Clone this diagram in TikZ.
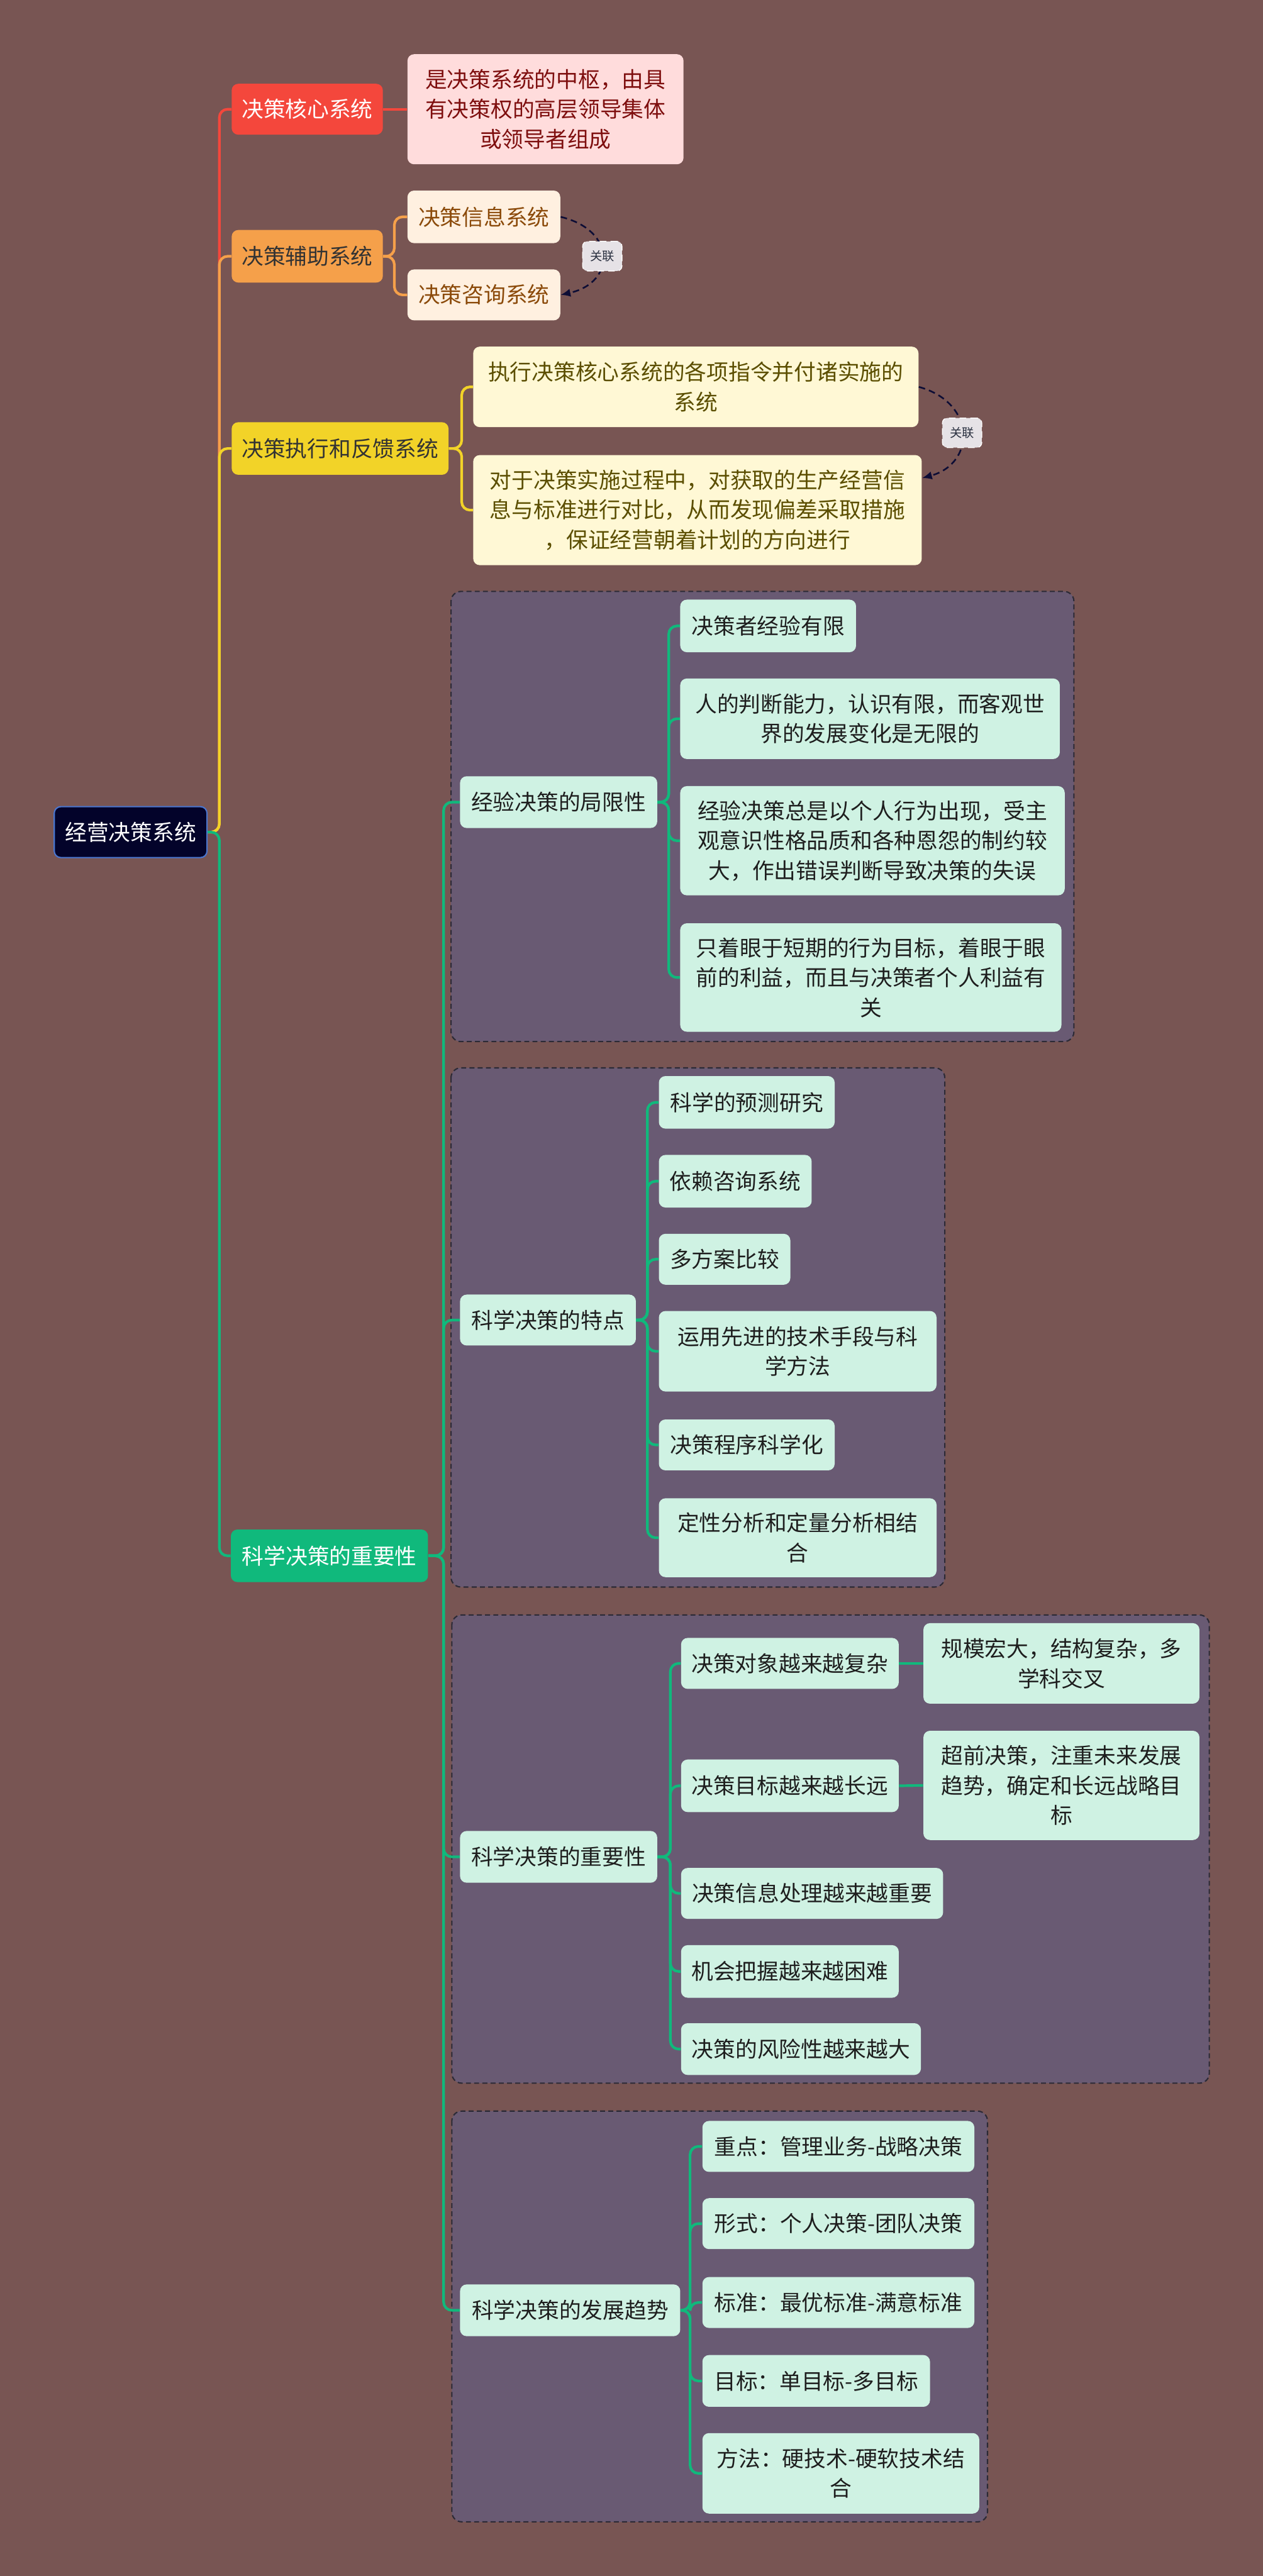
\documentclass[tikz,border=0pt]{standalone}
\usepackage{fontspec}
\newfontfamily\cjk{Noto Sans CJK SC}
\usetikzlibrary{arrows.meta}
\definecolor{bgc}{HTML}{785553}
\definecolor{grpfill}{HTML}{695A73}
\definecolor{grpline}{HTML}{2C2A36}
\definecolor{rootfill}{HTML}{03032A}
\definecolor{rootline}{HTML}{4A76D0}
\definecolor{redc}{HTML}{F4473C}
\definecolor{orangec}{HTML}{F5A04A}
\definecolor{yellowc}{HTML}{F2D328}
\definecolor{greenc}{HTML}{10B97C}
\definecolor{pinkfill}{HTML}{FFDCDC}
\definecolor{pinktext}{HTML}{7E0E0E}
\definecolor{creamfill}{HTML}{FFF0E0}
\definecolor{creamtext}{HTML}{8B4A0A}
\definecolor{lyfill}{HTML}{FFF8D5}
\definecolor{lytext}{HTML}{5B4E00}
\definecolor{mintfill}{HTML}{CFF2E3}
\definecolor{minttext}{HTML}{1E1E1E}
\definecolor{relc}{HTML}{0D0D35}
\definecolor{relfill}{HTML}{E6E2E6}
\definecolor{reltext}{HTML}{2A3040}
\pgfdeclarelayer{back}
\pgfdeclarelayer{edges}
\pgfsetlayers{back,edges,main}
\begin{document}
\begin{tikzpicture}[x=1pt,y=-1pt,
  nd/.style={rounded corners=4pt, inner sep=0pt, align=center,
    font=\cjk\fontsize{13.3}{18.2}\selectfont},
  sz/.style 2 args={minimum width=#1pt, minimum height=#2pt},
  rootbox/.style={nd, fill=rootfill, draw=rootline, line width=0.8pt, text=white},
  redbox/.style={nd, fill=redc, text=white},
  pinkbox/.style={nd, fill=pinkfill, text=pinktext},
  orangebox/.style={nd, fill=orangec, text=black!80},
  creambox/.style={nd, fill=creamfill, text=creamtext},
  yellowbox/.style={nd, fill=yellowc, text=black!80},
  lybox/.style={nd, fill=lyfill, text=lytext},
  greenbox/.style={nd, fill=greenc, text=white},
  mint/.style={nd, fill=mintfill, text=minttext},
  el/.style={line width=1.6pt, rounded corners=5pt},
  grp/.style={fill=grpfill, draw=grpline, line width=0.8pt, dash pattern=on 3pt off 2pt, rounded corners=6pt},
  rel/.style={draw=relc, line width=1pt, dash pattern=on 4pt off 2.5pt, -{Latex[length=6pt,width=5pt]}},
  rellabel/.style={fill=relfill, draw=white, line width=0.5pt, rounded corners=3pt, inner sep=0pt,
    minimum width=24pt, minimum height=18pt, text=reltext, font=\cjk\fontsize{7.4}{9}\selectfont}
]
\useasboundingbox (0,0) rectangle (768.6,1568);

% background and groups
\begin{pgfonlayer}{back}
\fill[bgc] (0,0) rectangle (768.6,1568);
\draw[grp] (274.5,360) rectangle (653.6,634);
\draw[grp] (274.5,650) rectangle (575,966);
\draw[grp] (275,983) rectangle (736,1268);
\draw[grp] (275,1285) rectangle (601,1535);
\end{pgfonlayer}

% nodes
\node[rootbox, sz={93}{31}] (root) at (79.5,506.5) {经营决策系统};

\node[redbox, sz={92}{31}] (red) at (187,66.5) {决策核心系统};
\node[pinkbox, sz={168}{67}] (pink) at (332,66.5) {是决策系统的中枢，由具\\有决策权的高层领导集体\\或领导者组成};

\node[orangebox, sz={92}{32}] (orange) at (187,156) {决策辅助系统};
\node[creambox, sz={93}{32}] (info) at (294.5,132) {决策信息系统};
\node[creambox, sz={93}{31}] (consult) at (294.5,179.5) {决策咨询系统};

\node[yellowbox, sz={132}{32}] (yellow) at (207,273) {决策执行和反馈系统};
\node[lybox, sz={271}{49}] (y1) at (423.5,235.5) {执行决策核心系统的各项指令并付诸实施的\\系统};
\node[lybox, sz={273}{67}] (y2) at (424.5,310.5) {对于决策实施过程中，对获取的生产经营信\\息与标准进行对比，从而发现偏差采取措施\\，保证经营朝着计划的方向进行};

\node[greenbox, sz={120}{32}] (green) at (200.5,947) {科学决策的重要性};

\node[mint, sz={120}{31.5}] (g1) at (340,488.25) {经验决策的局限性};
\node[mint, sz={107}{32}] (g1a) at (467.5,381) {决策者经验有限};
\node[mint, sz={231}{49}] (g1b) at (529.5,437.5) {人的判断能力，认识有限，而客观世\\界的发展变化是无限的};
\node[mint, sz={234}{66.5}] (g1c) at (531,511.75) {经验决策总是以个人行为出现，受主\\观意识性格品质和各种恩怨的制约较\\大，作出错误判断导致决策的失误};
\node[mint, sz={232}{66}] (g1d) at (530,595) {只着眼于短期的行为目标，着眼于眼\\前的利益，而且与决策者个人利益有\\关};

\node[mint, sz={107}{31}] (g2) at (333.5,803.5) {科学决策的特点};
\node[mint, sz={107}{32}] (g2a) at (454.5,671) {科学的预测研究};
\node[mint, sz={93}{32}] (g2b) at (447.5,719) {依赖咨询系统};
\node[mint, sz={80}{31}] (g2c) at (441,766.5) {多方案比较};
\node[mint, sz={169}{49}] (g2d) at (485.5,822.5) {运用先进的技术手段与科\\学方法};
\node[mint, sz={107}{31}] (g2e) at (454.5,879.5) {决策程序科学化};
\node[mint, sz={169}{48}] (g2f) at (485.5,936) {定性分析和定量分析相结\\合};

\node[mint, sz={120}{31.5}] (g3) at (340,1130.25) {科学决策的重要性};
\node[mint, sz={132.5}{31}] (g3a) at (480.75,1012.5) {决策对象越来越复杂};
\node[mint, sz={168}{49}] (g3a1) at (646,1012.5) {规模宏大，结构复杂，多\\学科交叉};
\node[mint, sz={132.5}{32}] (g3b) at (480.75,1087) {决策目标越来越长远};
\node[mint, sz={168}{66.5}] (g3b1) at (646,1086.75) {超前决策，注重未来发展\\趋势，确定和长远战略目\\标};
\node[mint, sz={159.5}{31}] (g3c) at (494.25,1152.5) {决策信息处理越来越重要};
\node[mint, sz={132.5}{32}] (g3d) at (480.75,1200) {机会把握越来越困难};
\node[mint, sz={146}{31.5}] (g3e) at (487.5,1247.25) {决策的风险性越来越大};

\node[mint, sz={134}{31.5}] (g4) at (347,1406.25) {科学决策的发展趋势};
\node[mint, sz={165.5}{31}] (g4a) at (510.25,1306.5) {重点：管理业务-战略决策};
\node[mint, sz={165.5}{31}] (g4b) at (510.25,1353.5) {形式：个人决策-团队决策};
\node[mint, sz={165.5}{31}] (g4c) at (510.25,1401.5) {标准：最优标准-满意标准};
\node[mint, sz={138.5}{31.5}] (g4d) at (496.75,1449.25) {目标：单目标-多目标};
\node[mint, sz={168.5}{49}] (g4e) at (511.75,1505.5) {方法：硬技术-硬软技术结\\合};

% junction x positions
\coordinate (jm) at (133.5,0);
\coordinate (jo) at (240,0);
\coordinate (jy) at (281,0);
\coordinate (jg) at (270,0);
\coordinate (j1) at (407,0);
\coordinate (j2) at (394,0);
\coordinate (j3) at (408,0);
\coordinate (j4) at (420,0);

\begin{pgfonlayer}{edges}
\draw[el, redc] (root.east) -- (root.east -| jm) |- (red.west);
\draw[el, orangec] (root.east) -- (root.east -| jm) |- (orange.west);
\draw[el, yellowc] (root.east) -- (root.east -| jm) |- (yellow.west);
\draw[el, greenc] (root.east) -- (root.east -| jm) |- (green.west);

\draw[el, redc] (red.east) -- (pink.west);
\draw[el, orangec] (orange.east) -- (orange.east -| jo) |- (info.west);
\draw[el, orangec] (orange.east) -- (orange.east -| jo) |- (consult.west);
\draw[el, yellowc] (yellow.east) -- (yellow.east -| jy) |- (y1.west);
\draw[el, yellowc] (yellow.east) -- (yellow.east -| jy) |- (y2.west);

\foreach \c in {g1,g2,g3,g4}
  \draw[el, greenc] (green.east) -- (green.east -| jg) |- (\c.west);
\foreach \c in {g1a,g1b,g1c,g1d}
  \draw[el, greenc] (g1.east) -- (g1.east -| j1) |- (\c.west);
\foreach \c in {g2a,g2b,g2c,g2d,g2e,g2f}
  \draw[el, greenc] (g2.east) -- (g2.east -| j2) |- (\c.west);
\foreach \c in {g3a,g3b,g3c,g3d,g3e}
  \draw[el, greenc] (g3.east) -- (g3.east -| j3) |- (\c.west);
\foreach \c in {g4a,g4b,g4c,g4d,g4e}
  \draw[el, greenc] (g4.east) -- (g4.east -| j4) |- (\c.west);
\draw[el, greenc] (g3a.east) -- (g3a1.west);
\draw[el, greenc] (g3b.east) -- (g3b1.west);
\end{pgfonlayer}

% relations
\draw[rel] (info.east) .. controls (375,140) and (375,172) .. (consult.east)
  node[rellabel, pos=0.5] (r1) {关联};
\draw[rel] (y1.east) .. controls (594,245) and (594,282) .. ([yshift=19.5pt]y2.east)
  node[rellabel, pos=0.5] (r2) {关联};
\end{tikzpicture}
\end{document}
